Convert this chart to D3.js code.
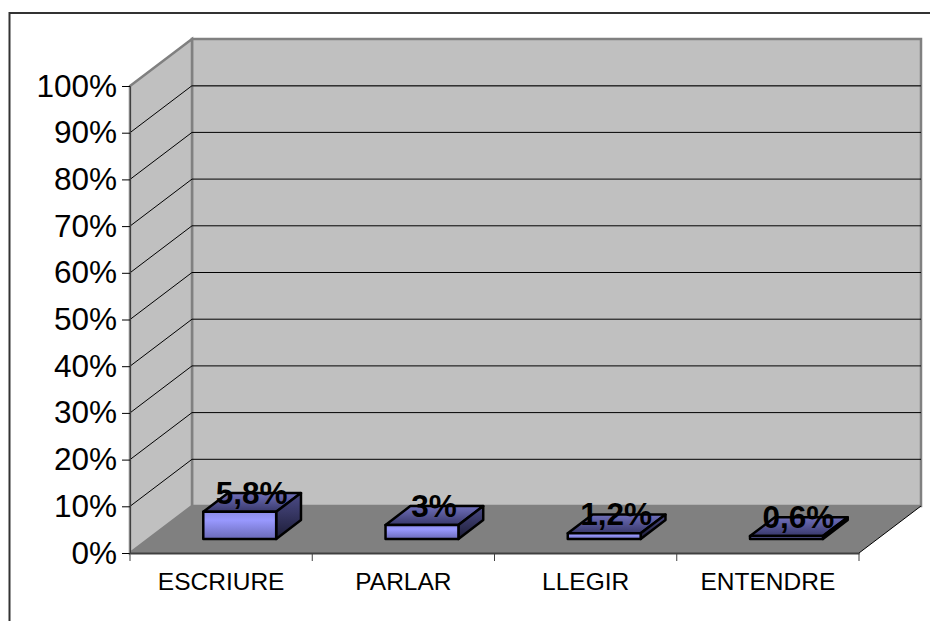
<!DOCTYPE html>
<html>
<head>
<meta charset="utf-8">
<script src="https://cdn.jsdelivr.net/npm/d3@7"></script>
<style>
  html, body { margin: 0; padding: 0; background: #fff; }
  svg { display: block; font-family: "Liberation Sans", Arial, sans-serif; }
</style>
</head>
<body>
<div id="vis"></div>
<script>
const categories = ['ESCRIURE', 'PARLAR', 'LLEGIR', 'ENTENDRE'];
const values = [5.8, 3, 1.2, 0.6];
const valueLabels = ['5,8%', '3%', '1,2%', '0,6%'];
const yTicks = [0, 10, 20, 30, 40, 50, 60, 70, 80, 90, 100];

const width = 930;
const height = 621;

// plot box, front face of the 3d box
const plot = { left: 130, right: 859, top: 86, bottom: 553 };
const depth = { x: 62, y: -47 };

// bars stand 30% into the floor and reach to 70%
const barFront = 0.3;
const barBack = 0.7;

const y = d3.scaleLinear().domain([0, 100]).range([plot.bottom, plot.top]);
const x = d3.scaleBand().domain(categories)
  .range([plot.left, plot.right])
  .paddingInner(0.6)
  .paddingOuter(0.3);
const xTickPos = d3.scaleBand().domain(categories).range([plot.left, plot.right]);

const svg = d3.select('#vis').append('svg')
  .attr('width', width)
  .attr('height', height);

const defs = svg.append('defs');

function gradient(id, stops) {
  const g = defs.append('linearGradient').attr('id', id)
    .attr('x1', 0).attr('y1', 0).attr('x2', 0).attr('y2', 1);
  stops.forEach(s => g.append('stop').attr('offset', s[0]).attr('stop-color', s[1]));
}
gradient('frontFill', [[0, '#8c8ce8'], [0.3, '#9999ff'], [1, '#6a6ab8']]);
gradient('topFill', [[0, '#7070bc'], [1, '#38386a']]);
gradient('sideFill', [[0, '#4c4c88'], [1, '#1c1c36']]);

// outer frame, runs off the right and bottom of the picture
svg.append('path')
  .attr('d', `M9.5,${height}V13H${width}`)
  .attr('fill', 'none')
  .attr('stroke', '#333')
  .attr('stroke-width', 2);

const wallColor = '#c0c0c0';
const edgeColor = '#808080';
const poly = pts => 'M' + pts.map(p => p.join(',')).join('L') + 'Z';

// back wall
svg.append('path')
  .attr('d', poly([
    [plot.left + depth.x, plot.top + depth.y],
    [plot.right + depth.x, plot.top + depth.y],
    [plot.right + depth.x, plot.bottom + depth.y],
    [plot.left + depth.x, plot.bottom + depth.y]
  ]))
  .attr('fill', wallColor)
  .attr('stroke', edgeColor)
  .attr('stroke-width', 2.5);

// side wall
svg.append('path')
  .attr('d', poly([
    [plot.left, plot.top],
    [plot.left + depth.x, plot.top + depth.y],
    [plot.left + depth.x, plot.bottom + depth.y],
    [plot.left, plot.bottom]
  ]))
  .attr('fill', wallColor)
  .attr('stroke', edgeColor)
  .attr('stroke-width', 2.5);

// floor
svg.append('path')
  .attr('d', poly([
    [plot.left, plot.bottom],
    [plot.right, plot.bottom],
    [plot.right + depth.x, plot.bottom + depth.y],
    [plot.left + depth.x, plot.bottom + depth.y]
  ]))
  .attr('fill', edgeColor);

// gridlines, on both walls
svg.append('g').selectAll('path')
  .data(yTicks.filter(d => d > 0 && d < 100))
  .join('path')
  .attr('d', d => `M${plot.left},${y(d)}L${plot.left + depth.x},${y(d) + depth.y}H${plot.right + depth.x}`)
  .attr('fill', 'none')
  .attr('stroke', '#000')
  .attr('stroke-width', 1);

// 100% line only shows on the back wall
svg.append('path')
  .attr('d', `M${plot.left + depth.x},${y(100)}H${plot.right + depth.x}`)
  .attr('stroke', '#404040')
  .attr('stroke-width', 1);

// floor front edge to the right corner
svg.append('path')
  .attr('d', `M${plot.right},${plot.bottom}L${plot.right + depth.x},${plot.bottom + depth.y}`)
  .attr('stroke', '#000')
  .attr('stroke-width', 1);

// bars
const bars = svg.append('g').selectAll('g')
  .data(categories.map((c, i) => ({ name: c, value: values[i], label: valueLabels[i] })))
  .join('g');

function barGeom(d) {
  const x0 = x(d.name) + depth.x * barFront;
  const x1 = x0 + x.bandwidth();
  const yb = y(0) + depth.y * barFront;
  const yt = y(d.value) + depth.y * barFront;
  const dx = depth.x * (barBack - barFront);
  const dy = depth.y * (barBack - barFront);
  return { x0, x1, yb, yt, dx, dy };
}

bars.append('path')
  .attr('d', d => {
    const g = barGeom(d);
    return poly([[g.x0, g.yt], [g.x1, g.yt], [g.x1 + g.dx, g.yt + g.dy], [g.x0 + g.dx, g.yt + g.dy]]);
  })
  .attr('fill', 'url(#topFill)');

bars.append('path')
  .attr('d', d => {
    const g = barGeom(d);
    return poly([[g.x1, g.yt], [g.x1 + g.dx, g.yt + g.dy], [g.x1 + g.dx, g.yb + g.dy], [g.x1, g.yb]]);
  })
  .attr('fill', 'url(#sideFill)');

bars.append('path')
  .attr('d', d => {
    const g = barGeom(d);
    return poly([[g.x0, g.yt], [g.x1, g.yt], [g.x1, g.yb], [g.x0, g.yb]]);
  })
  .attr('fill', 'url(#frontFill)');

bars.selectAll('path')
  .attr('stroke', '#000')
  .attr('stroke-width', 2.5)
  .attr('stroke-linejoin', 'round');

// value labels sit on top of the bars
bars.append('text')
  .attr('x', d => { const g = barGeom(d); return (g.x0 + g.x1) / 2 + 12; })
  .attr('y', d => barGeom(d).yt - 8)
  .attr('text-anchor', 'middle')
  .attr('font-size', 31.5)
  .attr('font-weight', 'bold')
  .attr('fill', '#000')
  .text(d => d.label);

// y axis
const yAxis = d3.axisLeft(y)
  .tickValues(yTicks)
  .tickSize(8)
  .tickPadding(5)
  .tickFormat(d => d + '%');

const yG = svg.append('g')
  .attr('transform', `translate(${plot.left},0)`)
  .call(yAxis);
yG.selectAll('text').attr('font-size', 31.5).attr('font-family', null).attr('fill', '#000');
yG.select('.domain').attr('stroke', '#404040');

// x axis
const xAxis = d3.axisBottom(xTickPos).tickSize(0).tickPadding(19.5);
const xG = svg.append('g')
  .attr('transform', `translate(0,${plot.bottom})`)
  .call(xAxis);
xG.selectAll('text').attr('font-size', 24.5).attr('font-family', null).attr('fill', '#000');
xG.select('.domain').attr('stroke', '#404040').attr('stroke-width', 2);

const xEdges = categories.map(c => xTickPos(c)).concat(plot.right);
svg.append('g').selectAll('line')
  .data(xEdges)
  .join('line')
  .attr('x1', d => d).attr('x2', d => d)
  .attr('y1', plot.bottom).attr('y2', plot.bottom + 8)
  .attr('stroke', '#404040');
</script>
</body>
</html>
